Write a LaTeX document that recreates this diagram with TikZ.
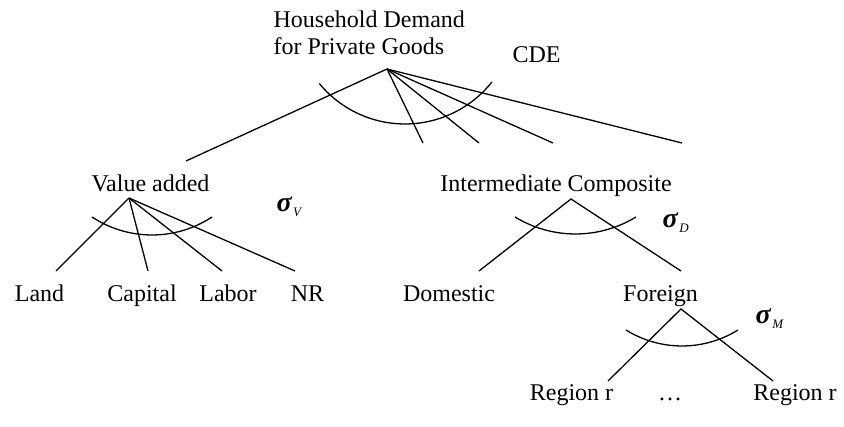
\documentclass[tikz,border=0pt]{standalone}
\usepackage{fontspec}
\setmainfont{Liberation Serif}
\newcommand\elast[1]{{\fontsize{28}{28}\selectfont\bfseries\itshape σ}\kern1.5pt\raisebox{-5pt}{\itshape\fontsize{13}{13}\selectfont #1}}
\begin{document}
\begin{tikzpicture}[x=1pt,y=1pt,line width=1.3pt,
  every node/.style={inner sep=0pt,font=\fontsize{24}{27}\selectfont}]
\useasboundingbox (0,0) rectangle (844,427);
% top level
\node[anchor=north west,align=left] (hh) at (273,416.5) {Household Demand\\for Private Goods};
\node[anchor=base] (cde) at (536.5,364) {CDE};
\coordinate (hhtop) at (387,358);
\foreach \x/\y [count=\i] in {186/266,423/284,479/284,553/284,682/284}
  \coordinate (hd\i) at (\x,\y);
\foreach \i in {1,...,5} \draw (hhtop) -- (hd\i);
\draw ([shift=(219.5:111)]405,414) arc[start angle=219.5,end angle=321.6,radius=111];

% value added
\node[anchor=base] (va) at (150.5,235) {Value added};
\node[anchor=base west] (sigv) at (276,215) {\elast{V}};
\coordinate (vatop) at (129,229);
\foreach \x [count=\i] in {56,148,222,295} \coordinate (vd\i) at (\x,156);
\foreach \i in {1,...,4} \draw (vatop) -- (vd\i);
\draw ([shift=(236.6:109)]152,301) arc[start angle=236.6,end angle=303.4,radius=109];
\node[anchor=base] (land) at (39.5,125) {Land};
\node[anchor=base] (capital) at (142,125) {Capital};
\node[anchor=base] (labor) at (228,125) {Labor};
\node[anchor=base] (nr) at (307.5,125) {NR};

% intermediate composite
\node[anchor=base] (ic) at (556,235) {Intermediate Composite};
\node[anchor=base west] (sigd) at (662,199) {\elast{D}};
\coordinate (ictop) at (571,228);
\coordinate (icd1) at (479,156);
\coordinate (icd2) at (681,156);
\draw (icd1) -- (ictop) -- (icd2);
\draw ([shift=(238.6:116)]575.5,309) arc[start angle=238.6,end angle=301.4,radius=116];
\node[anchor=base] (domestic) at (449,125) {Domestic};
\node[anchor=base] (foreign) at (660.5,125) {Foreign};

% foreign
\node[anchor=base west] (sigm) at (755,103) {\elast{M}};
\coordinate (fgtop) at (681,118);
\coordinate (fgd1) at (608,46);
\coordinate (fgd2) at (773,46);
\draw (fgd1) -- (fgtop) -- (fgd2);
\draw ([shift=(238.1:106)]682,187) arc[start angle=238.1,end angle=301.9,radius=106];
\node[anchor=base] (reg1) at (571.5,26) {Region r};
\node[anchor=base] (dots) at (670,26) {\dots};
\node[anchor=base] (reg2) at (795,26) {Region r};
\end{tikzpicture}
\end{document}
